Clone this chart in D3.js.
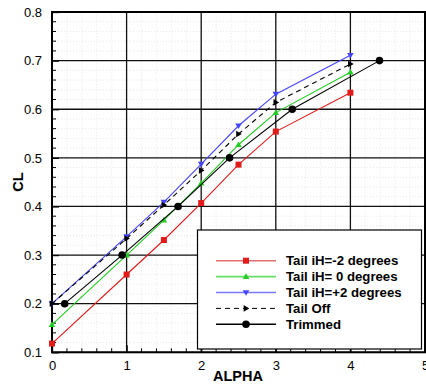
<!DOCTYPE html>
<html>
<head>
<meta charset="utf-8">
<script src="https://cdn.jsdelivr.net/npm/d3@7"></script>
<style>
  body { margin: 0; background: #fff; }
  svg { display: block; font-family: "Liberation Sans", Arial, sans-serif; }
</style>
</head>
<body>
<div id="chart"></div>
<script>
// data
const alphas = [0, 1, 1.5, 2, 2.5, 3, 4];
const clTailM2 = [0.118, 0.260, 0.331, 0.407, 0.486, 0.554, 0.634];
const clTail0 = [0.157, 0.300, 0.372, 0.448, 0.527, 0.593, 0.676];
const clTailP2 = [0.200, 0.338, 0.409, 0.487, 0.566, 0.631, 0.711];
const clTailOff = [0.200, 0.334, 0.403, 0.474, 0.549, 0.614, 0.693];
const trimAlpha = [0.17, 0.94, 1.69, 2.38, 3.22, 4.39];
const trimCL = [0.200, 0.300, 0.400, 0.500, 0.600, 0.700];

const xTicks = [0, 1, 2, 3, 4, 5];
const yTicks = [0.1, 0.2, 0.3, 0.4, 0.5, 0.6, 0.7, 0.8];

const series = [
  { name: "Tail iH=-2 degrees", x: alphas, y: clTailM2, color: "#e31a1a", legendColor: "#e07070", marker: "square", dash: null },
  { name: "Tail iH= 0 degrees", x: alphas, y: clTail0, color: "#22cc22", legendColor: "#66dd66", marker: "triUp", dash: null },
  { name: "Tail iH=+2 degrees", x: alphas, y: clTailP2, color: "#4444ff", legendColor: "#7777ff", marker: "triDown", dash: null },
  { name: "Tail Off", x: alphas, y: clTailOff, color: "#000", legendColor: "#000", marker: "triRight", dash: "5,4" },
  { name: "Trimmed", x: trimAlpha, y: trimCL, color: "#000", legendColor: "#000", marker: "circle", dash: null }
];

const W = 426, H = 388;
const svg = d3.select("#chart").append("svg").attr("width", W).attr("height", H);

const x = d3.scaleLinear().domain([0, 5]).range([52, 425]);
const y = d3.scaleLinear().domain([0.1, 0.8]).range([352.3, 12]);

// faint dotted minor grid
const minorX = d3.range(0, 5.001, 0.2);
const minorY = d3.range(0.1, 0.8001, 0.02);
svg.append("g").selectAll("line").data(minorX).join("line")
  .attr("x1", d => x(d)).attr("x2", d => x(d)).attr("y1", y(0.1)).attr("y2", y(0.8))
  .attr("stroke", "#d8d8d8").attr("stroke-width", 0.6).attr("stroke-dasharray", "1,2");
svg.append("g").selectAll("line").data(minorY).join("line")
  .attr("y1", d => y(d)).attr("y2", d => y(d)).attr("x1", x(0)).attr("x2", x(5))
  .attr("stroke", "#d8d8d8").attr("stroke-width", 0.6).attr("stroke-dasharray", "1,2");

// major grid
svg.append("g").selectAll("line").data(xTicks).join("line")
  .attr("x1", d => x(d)).attr("x2", d => x(d)).attr("y1", y(0.1)).attr("y2", y(0.8))
  .attr("stroke", "#111").attr("stroke-width", 1.3);
svg.append("g").selectAll("line").data(yTicks).join("line")
  .attr("y1", d => y(d)).attr("y2", d => y(d)).attr("x1", x(0)).attr("x2", x(5))
  .attr("stroke", "#111").attr("stroke-width", 1.3);

// axes with inward ticks
const xAxis = svg.append("g").attr("transform", `translate(0,${y(0.1)})`)
  .call(d3.axisBottom(x).tickValues(xTicks).tickFormat(d3.format("d")).tickSizeInner(-7).tickSizeOuter(0).tickPadding(8));
xAxis.append("g").selectAll("line").data(minorX.filter(v => Math.abs(v - Math.round(v)) > 1e-6)).join("line")
  .attr("x1", d => x(d)).attr("x2", d => x(d)).attr("y1", 0).attr("y2", -4).attr("stroke", "#000");
const yAxis = svg.append("g").attr("transform", `translate(${x(0)},0)`)
  .call(d3.axisLeft(y).tickValues(yTicks).tickFormat(d3.format(".1f")).tickSizeInner(-7).tickSizeOuter(0).tickPadding(10));
yAxis.append("g").selectAll("line").data(minorY.filter(v => Math.abs(v * 10 - Math.round(v * 10)) > 1e-6)).join("line")
  .attr("x1", 0).attr("x2", 4).attr("y1", d => y(d)).attr("y2", d => y(d)).attr("stroke", "#000");
[xAxis, yAxis].forEach(a => {
  a.select(".domain").remove();
  a.selectAll(".tick line").attr("stroke", "#000").attr("stroke-width", 1.3);
  a.selectAll("text").attr("font-size", 13).attr("fill", "#000").attr("font-family", "Liberation Sans, Arial, sans-serif");
});

// frame
svg.append("rect").attr("x", x(0)).attr("y", y(0.8)).attr("width", x(5) - x(0)).attr("height", y(0.1) - y(0.8))
  .attr("fill", "none").attr("stroke", "#000").attr("stroke-width", 2);

// markers
function drawMarker(g, type, cx, cy, color, s) {
  if (type === "square") {
    g.append("rect").attr("x", cx - s).attr("y", cy - s).attr("width", 2 * s).attr("height", 2 * s).attr("fill", color);
  } else if (type === "circle") {
    g.append("circle").attr("cx", cx).attr("cy", cy).attr("r", s + 0.8).attr("fill", color);
  } else {
    const r = s + 0.3;
    let pts;
    if (type === "triUp") pts = [[cx, cy - r], [cx - r, cy + r * 0.7], [cx + r, cy + r * 0.7]];
    else if (type === "triDown") pts = [[cx, cy + r], [cx - r, cy - r * 0.7], [cx + r, cy - r * 0.7]];
    else pts = [[cx + r, cy], [cx - r * 0.7, cy - r], [cx - r * 0.7, cy + r]];
    g.append("polygon").attr("points", pts.map(p => p.join(",")).join(" ")).attr("fill", color);
  }
}

const line = d3.line().x(d => x(d[0])).y(d => y(d[1]));
series.forEach(s => {
  const pts = s.x.map((v, i) => [v, s.y[i]]);
  const g = svg.append("g");
  g.append("path").attr("d", line(pts)).attr("fill", "none")
    .attr("stroke", s.color).attr("stroke-width", 1.1)
    .attr("stroke-dasharray", s.dash);
  pts.forEach(p => drawMarker(g, s.marker, x(p[0]), y(p[1]), s.color, 3));
});

// legend
const lg = svg.append("g");
lg.append("rect").attr("x", 197.5).attr("y", 230).attr("width", 224).attr("height", 119)
  .attr("fill", "#fff").attr("stroke", "#000").attr("stroke-width", 1.2);
series.forEach((s, i) => {
  const ly = 260.7 + i * 15.9;
  lg.append("line").attr("x1", 216).attr("x2", 276).attr("y1", ly).attr("y2", ly)
    .attr("stroke", s.legendColor).attr("stroke-width", s.dash ? 1 : 1.6).attr("stroke-dasharray", s.dash);
  drawMarker(lg, s.marker, 246, ly, s.color, 3);
  lg.append("text").attr("x", 286).attr("y", ly + 4.7).attr("font-size", 13.2).attr("font-weight", "bold")
    .attr("fill", "#000").text(s.name);
});

// axis titles
svg.append("text").attr("x", 238).attr("y", 381).attr("text-anchor", "middle")
  .attr("font-size", 14.5).attr("font-weight", "bold").text("ALPHA");
svg.append("text").attr("transform", `translate(23,${y(0.45)}) rotate(-90)`).attr("text-anchor", "middle")
  .attr("font-size", 14.5).attr("font-weight", "bold").text("CL");
</script>
</body>
</html>
